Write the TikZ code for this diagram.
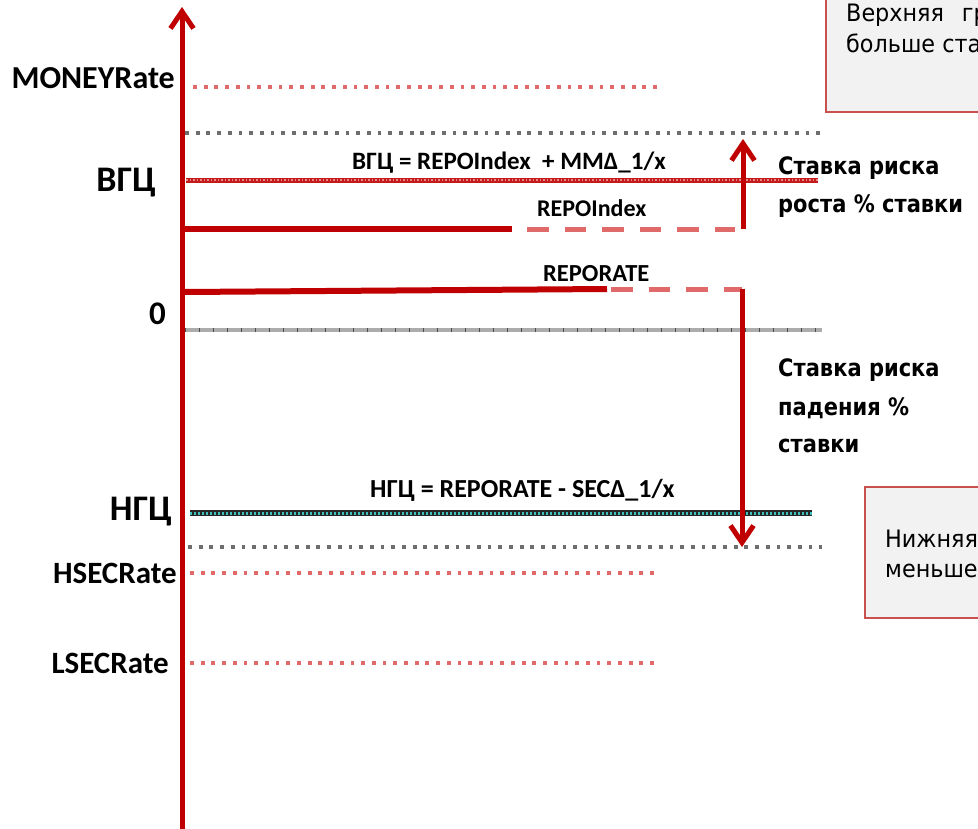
\documentclass[tikz,border=0pt]{standalone}
\usepackage{fontspec}
\setmainfont{Carlito}
\newfontfamily\tah[FakeStretch=0.875]{DejaVu Sans}
\newfontfamily\tahr[FakeStretch=0.93]{DejaVu Sans}
\usetikzlibrary{arrows.meta}
\definecolor{axred}{HTML}{C00000}
\definecolor{dotred}{HTML}{E06A6A}
\definecolor{dotgrey}{HTML}{6E6E6E}
\definecolor{boxedge}{HTML}{C9504D}
\definecolor{boxfill}{HTML}{F2F2F2}
\definecolor{teal1}{HTML}{3FC0C0}
\tikzset{
  reddots/.style={draw=dotred, line width=3.8pt, dash pattern=on 3.8pt off 6.9pt},
  greydots/.style={draw=dotgrey, line width=3.8pt, dash pattern=on 3.8pt off 6.9pt},
  redsolid/.style={draw=axred, line width=5.5pt},
  reddash/.style={draw=dotred, line width=5pt, dash pattern=on 21.7pt off 15.8pt},
  vgcline/.style={draw=axred!90, line width=5pt, postaction={draw=white!55!axred, line width=1.2pt, dash pattern=on 1.5pt off 2pt}},
  zeroline/.style={draw=gray!65, line width=4pt, postaction={draw=black!70, line width=4pt, dash pattern=on 1pt off 13pt}},
  ngcline/.style={draw=black!85, line width=5.5pt, postaction={draw=teal1, line width=3pt, dash pattern=on 2pt off 2pt}},
  bigarrow/.style={draw=axred, line width=5pt, -{Straight Barb[length=17pt,width=23pt]}},
  lbl/.style={inner sep=0pt, font=\bfseries},
  riskl/.style={inner sep=0pt, anchor=base west, font=\tah\bfseries\fontsize{24}{28}\selectfont},
  boxl/.style={inner sep=0pt, anchor=base west, font=\tahr\fontsize{24}{28}\selectfont},
  infobox/.style={draw=boxedge, fill=boxfill, line width=2pt}
}
\begin{document}
\begin{tikzpicture}[x=1pt,y=-1pt]
\useasboundingbox (0,0) rectangle (978,828);
\clip (0,0) rectangle (978,828);
\fill[white] (0,0) rectangle (978,828);

% info boxes (cut by the picture's right edge, as in the reference)
\draw[infobox] (826,-10) rectangle (1000,112);
\draw[infobox] (865,487) rectangle (1000,618);
\node[boxl] (bt1) at (846,21) {Верхняя\hspace{0.45em} гр};
\node[boxl] (bt2) at (846,52) {больше ста};
\node[boxl] (bb1) at (885,547) {Нижняя};
\node[boxl] (bb2) at (885,577) {меньше};

% coordinates
\coordinate (m1) at (193,87);   \coordinate (m2) at (657,87);
\coordinate (g1) at (185,133);  \coordinate (g2) at (822,133);
\coordinate (v1) at (186,180);  \coordinate (v2) at (818,180);
\coordinate (ri1) at (184,229); \coordinate (ri2) at (512,229);
\coordinate (ri3) at (527,229); \coordinate (ri4) at (743,229);
\coordinate (ri5) at (735,229);
\coordinate (rr1) at (184,292); \coordinate (rr2) at (607,289);
\coordinate (rr3) at (611,289); \coordinate (rr4) at (742,289);
\coordinate (z1) at (185,330);  \coordinate (z2) at (822,330);
\coordinate (n1) at (190,513);  \coordinate (n2) at (812,513);
\coordinate (g3) at (188,547);  \coordinate (g4) at (822,547);
\coordinate (h1) at (190,573);  \coordinate (h2) at (660,573);
\coordinate (l1) at (190,663);  \coordinate (l2) at (660,663);
\coordinate (ax0) at (182,830); \coordinate (ax1) at (182,7);
\coordinate (up) at (743,139);  \coordinate (dn) at (742,547);

% level lines
\draw[reddots] (m1) -- (m2);
\draw[greydots] (g1) -- (g2);
\draw[vgcline] (v1) -- (v2);
\draw[redsolid] (ri1) -- (ri2);
\draw[reddash] (ri3) -- (ri5);
\draw[redsolid, line width=6pt] (rr1) -- (rr2);
\draw[reddash] (rr3) -- (rr4);
\draw[zeroline] (z1) -- (z2);
\draw[ngcline] (n1) -- (n2);
\draw[greydots] (g3) -- (g4);
\draw[reddots] (h1) -- (h2);
\draw[reddots] (l1) -- (l2);

% arrows
\draw[bigarrow] (ax0) -- (ax1);
\draw[bigarrow] (ri4) -- (up);
\draw[bigarrow] (rr4) -- (dn);

% axis labels
\node[lbl, anchor=base east, font=\bfseries\fontsize{32}{36}\selectfont] (lm) at (175,88) {MONEYRate};
\node[lbl, anchor=base east, font=\bfseries\fontsize{36}{40}\selectfont] (lv) at (156,191) {ВГЦ};
\node[lbl, anchor=base east, font=\bfseries\fontsize{33}{36}\selectfont] (l0) at (166,324) {0};
\node[lbl, anchor=base east, font=\bfseries\fontsize{36}{40}\selectfont] (ln) at (172,520) {НГЦ};
\node[lbl, anchor=base east, font=\bfseries\fontsize{31}{34}\selectfont] (lh) at (177,583) {HSECRate};
\node[lbl, anchor=base east, font=\bfseries\fontsize{31}{34}\selectfont] (ll) at (169,673) {LSECRate};

% line labels
\node[lbl, anchor=base west, font=\bfseries\fontsize{25}{28}\selectfont] (fv) at (352,169) {ВГЦ = REPOIndex\ \ + MMΔ\_1/x};
\node[lbl, anchor=base west, font=\bfseries\fontsize{24}{26}\selectfont] (fri) at (537,216) {REPOIndex};
\node[lbl, anchor=base west, font=\bfseries\fontsize{24.5}{26}\selectfont] (frr) at (543,281) {REPORATE};
\node[lbl, anchor=base west, font=\bfseries\fontsize{26}{28}\selectfont] (fn) at (370,497) {НГЦ = REPORATE - SECΔ\_1/x};

% risk labels
\node[riskl] (ru1) at (778,174) {Ставка риска};
\node[riskl] (ru2) at (778,212) {роста \% ставки};
\node[riskl] (rd1) at (778,376) {Ставка риска};
\node[riskl] (rd2) at (778,415) {падения \%};
\node[riskl] (rd3) at (778,452) {ставки};
\end{tikzpicture}
\end{document}
